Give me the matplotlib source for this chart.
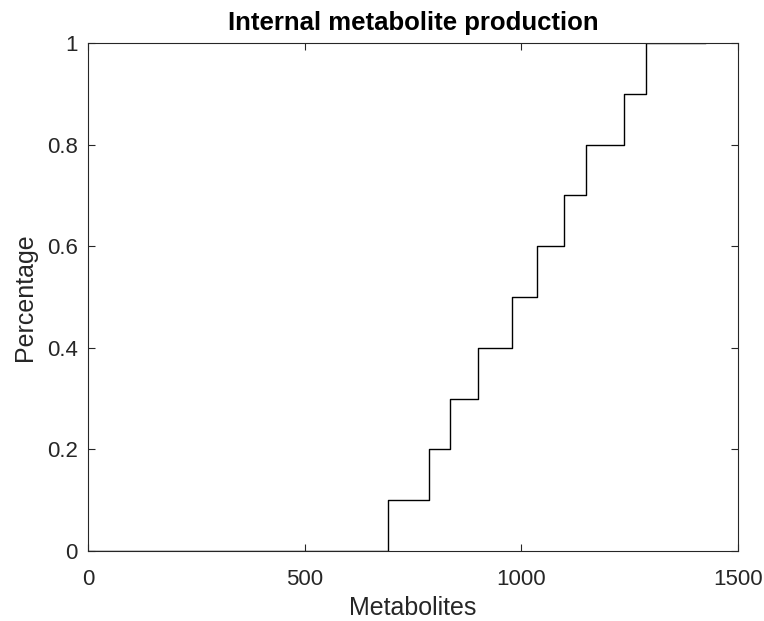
import matplotlib
matplotlib.use("Agg")
import matplotlib.pyplot as plt
import numpy as np

# step positions (metabolite counts) and cumulative fractions
metabolites = [0, 693, 787, 835, 899, 979, 1037, 1099, 1149, 1238, 1288, 1424]
percentage = [0.0, 0.1, 0.2, 0.3, 0.4, 0.5, 0.6, 0.7, 0.8, 0.9, 1.0, 1.0]

xticks = [0, 500, 1000, 1500]
yticks = [0, 0.2, 0.4, 0.6, 0.8, 1]
yticklabels = ["0", "0.2", "0.4", "0.6", "0.8", "1"]

plt.rcParams["font.family"] = ["Liberation Sans", "DejaVu Sans"]
grey = "#262626"

fig = plt.figure(figsize=(7.64, 6.21), dpi=100)
ax = fig.add_axes([0.1152, 0.1127, 0.966 - 0.1152, 0.9308 - 0.1127])

ax.step(metabolites, percentage, where="post", color="black", linewidth=1.0)

ax.set_xlim(0, 1500)
ax.set_ylim(0, 1)
ax.set_xticks(xticks)
ax.set_xticklabels([str(t) for t in xticks])
ax.set_yticks(yticks)
ax.set_yticklabels(yticklabels)

ax.tick_params(direction="in", top=True, right=True, length=5, width=0.8,
               colors=grey, labelsize=16)
ax.tick_params(axis="x", pad=13)
ax.tick_params(axis="y", pad=7.5)
for s in ax.spines.values():
    s.set_color(grey)
    s.set_linewidth(0.8)

ax.set_xlabel("Metabolites", fontsize=18, color=grey, labelpad=4)
ax.set_ylabel("Percentage", fontsize=18, color=grey, labelpad=7)
ax.set_title("Internal metabolite production", fontsize=18.5, fontweight="bold",
             color="black", pad=9)

fig.savefig("out.png", dpi=100)
